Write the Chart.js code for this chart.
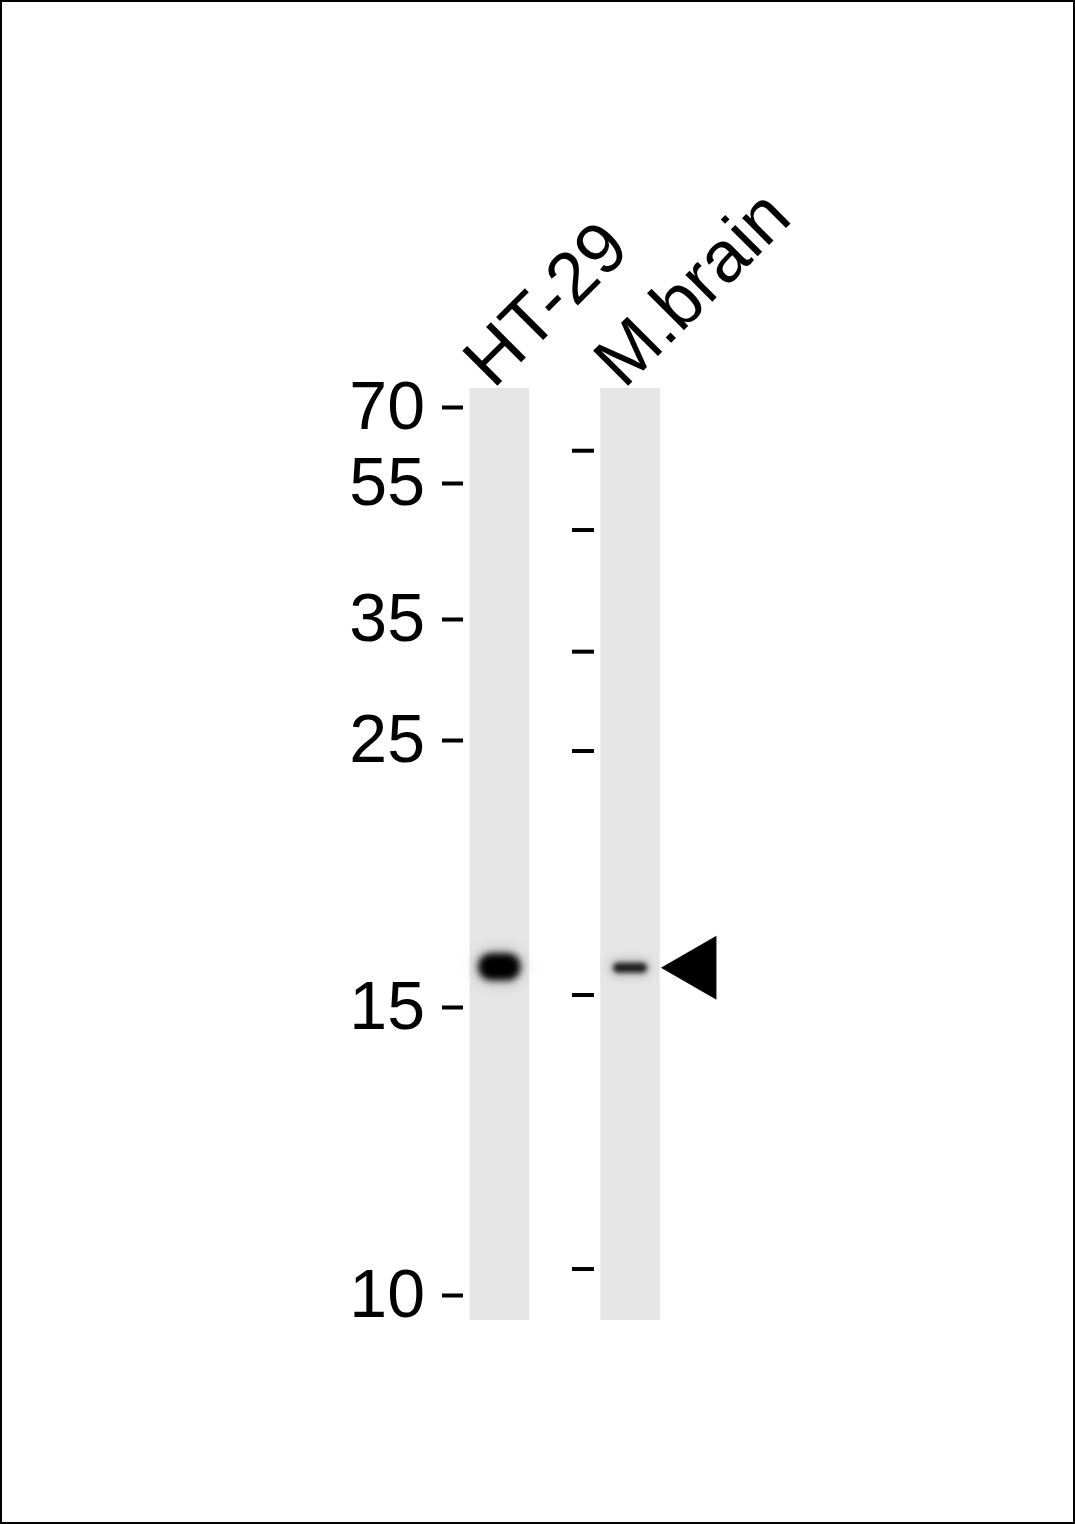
<!DOCTYPE html>
<html>
<head>
<meta charset="utf-8">
<title>Western blot</title>
<script src="https://cdn.jsdelivr.net/npm/chart.js@4.4.0/dist/chart.umd.min.js"></script>
<style>
  html, body { margin: 0; padding: 0; background: #fff; }
  canvas { display: block; }
</style>
</head>
<body>
<canvas id="blot" width="1075" height="1524"></canvas>
<script>
// sample lanes
const laneNames = ['HT-29', 'M.brain'];
const laneIndex = [1, 2];

// MW ladder (kDa) and relative migration along the lane (0 = top, 1 = bottom)
const markerLabels = ['70', '55', '35', '25', '15', '10'];
const markerPos = [0.021, 0.1025, 0.2482, 0.3784, 0.6649, 0.9732];
// second ladder run, marked left of the M.brain lane
const ladder2Pos = [0.0673, 0.1524, 0.2829, 0.3895, 0.6513, 0.9453];

// detected band per lane
const bandPos = [0.621, 0.622];
const bandStrength = [1.0, 0.85];

// layout / style
const LANE_TOP = 388, LANE_BOTTOM = 1320, AXIS_RIGHT = 463;
const PX_PER_LANE = 130.7, FIRST_LANE_PX = 499.3;
const X_MIN = laneIndex[0] - (FIRST_LANE_PX - AXIS_RIGHT) / PX_PER_LANE;
const X_MAX = X_MIN + (1075 - AXIS_RIGHT) / PX_PER_LANE;
const ARROW_GAP = 0.52;   // in lane units, right of the lane centre
const FONT = '"Liberation Sans", Arial, sans-serif';
const bandShape = [
    { w: 42, h: 27, r: 13, blur: 3.5 },
    { w: 34, h: 10, r: 5, blur: 2.5 }
];

const blotPlugin = {
    id: 'blot',
    afterDatasetsDraw(chart) {
        const ctx = chart.ctx;
        const xs = chart.scales.x;
        const ys = chart.scales.y;

        // bands
        laneIndex.forEach((lane, i) => {
            const cx = xs.getPixelForValue(lane);
            const cy = ys.getPixelForValue(bandPos[i]);
            const s = bandShape[i];
            ctx.save();
            ctx.filter = 'blur(' + (s.blur * 2) + 'px)';
            ctx.fillStyle = 'rgba(0,0,0,0.14)';
            ctx.beginPath();
            ctx.roundRect(cx - s.w / 2 - 5, cy - s.h / 2 - 5, s.w + 10, s.h + 10, s.r + 5);
            ctx.fill();
            ctx.filter = 'blur(' + s.blur + 'px)';
            ctx.fillStyle = 'rgba(0,0,0,' + bandStrength[i] + ')';
            ctx.beginPath();
            ctx.roundRect(cx - s.w / 2, cy - s.h / 2, s.w, s.h, s.r);
            ctx.fill();
            ctx.restore();
        });

        // second ladder dashes
        const x2 = xs.getPixelForValue(laneIndex[1]);
        ctx.fillStyle = '#000';
        ladder2Pos.forEach(v => {
            const y = ys.getPixelForValue(v);
            ctx.fillRect(x2 - 58, y - 2, 22, 4);
        });

        // lane labels, rotated
        ctx.save();
        ctx.font = '72px ' + FONT;
        ctx.textAlign = 'left';
        ctx.textBaseline = 'alphabetic';
        laneNames.forEach((name, i) => {
            const x = xs.getPixelForValue(laneIndex[i]);
            ctx.save();
            ctx.translate(x - 6, chart.chartArea.top + 2);
            ctx.rotate(-Math.PI / 4);
            ctx.fillText(name, 0, 0);
            ctx.restore();
        });
        ctx.restore();

        // frame
        ctx.save();
        ctx.strokeStyle = '#000';
        ctx.lineWidth = 2;
        ctx.strokeRect(1, 1, chart.width - 2, chart.height - 2);
        ctx.restore();
    }
};

new Chart(document.getElementById('blot'), {
    type: 'bar',
    data: {
        datasets: [{
            label: 'lanes',
            data: laneIndex.map(x => ({ x: x, y: [0, 1] })),
            backgroundColor: '#e6e6e6',
            borderWidth: 0,
            barThickness: 59,
            order: 2
        }, {
            type: 'scatter',
            label: 'arrow',
            data: [{ x: laneIndex[1] + ARROW_GAP, y: bandPos[1] }],
            pointStyle: 'triangle',
            rotation: 270,
            radius: 37,
            backgroundColor: '#000',
            borderWidth: 0,
            order: 1
        }]
    },
    options: {
        responsive: false,
        animation: false,
        events: [],
        layout: {
            autoPadding: false,
            padding: { left: 0, right: 0, top: LANE_TOP, bottom: 1524 - LANE_BOTTOM }
        },
        plugins: {
            legend: { display: false },
            tooltip: { enabled: false }
        },
        scales: {
            x: {
                type: 'linear',
                display: false,
                offset: false,
                min: X_MIN,
                max: X_MAX
            },
            y: {
                type: 'linear',
                position: 'left',
                reverse: true,
                min: 0,
                max: 1,
                afterBuildTicks: function(scale) {
                    scale.ticks = markerPos.map(v => ({ value: v }));
                },
                afterFit: function(scale) {
                    scale.width = AXIS_RIGHT;
                },
                border: { display: false },
                grid: {
                    drawOnChartArea: false,
                    drawTicks: true,
                    tickLength: 21,
                    tickWidth: 4,
                    tickColor: '#000'
                },
                ticks: {
                    autoSkip: false,
                    padding: 17,
                    labelOffset: 3,
                    color: '#000',
                    font: { family: FONT, size: 68 },
                    callback: function(value, index) {
                        return markerLabels[index];
                    }
                }
            }
        }
    },
    plugins: [blotPlugin]
});
</script>
</body>
</html>
